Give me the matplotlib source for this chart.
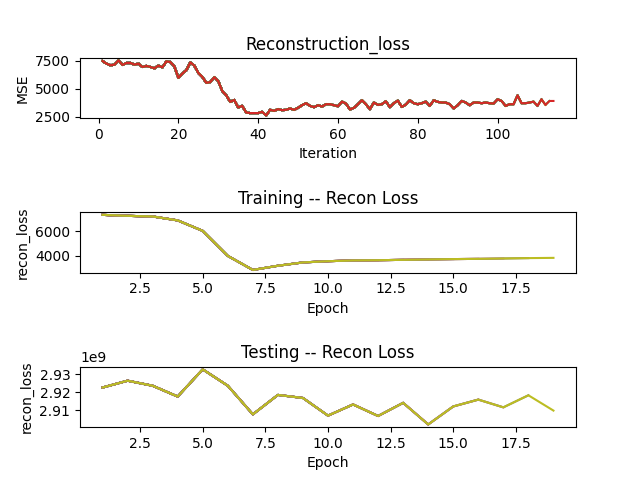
import matplotlib
matplotlib.use("Agg")
import matplotlib.pyplot as plt

iterations = list(range(1, 115))
mse = [7470, 7235, 7090, 7150, 7530, 7120, 7295, 7295, 7150, 7235,
       6940, 7030, 6940, 6820, 7060, 6910, 7440, 7380, 7000, 5970,
       6350, 6650, 7350, 7060, 6410, 6060, 5530, 5590, 6030, 5680,
       4800, 4410, 3830, 4000, 3330, 3470, 2880, 2830, 2830, 2830,
       2940, 2620, 3120, 3030, 3180, 3090, 3120, 3240, 3120, 3300,
       3530, 3710, 3470, 3355, 3530, 3410, 3620, 3620, 3530, 3440,
       3850, 3680, 3150, 3300, 3620, 3970, 3620, 3180, 3770, 3560,
       3620, 3880, 3355, 3710, 3940, 3380, 3590, 3970, 3710, 3620,
       3710, 3850, 3470, 3970, 3830, 3770, 3770, 3620, 3240, 3530,
       3910, 3770, 3530, 3770, 3770, 3710, 3770, 3710, 3680, 4060,
       3910, 3470, 3620, 3620, 4410, 3710, 3710, 3770, 3850, 3470,
       4060, 3560, 3910, 3910]

epochs = list(range(1, 20))
train_loss = [7330, 7250, 7200, 6880, 6030, 4000, 2860, 3200, 3470, 3570,
              3630, 3650, 3680, 3710, 3740, 3760, 3790, 3820, 3840]
train_yticks = [4000, 6000]
test_loss = [2.9227e9, 2.9265e9, 2.9237e9, 2.9177e9, 2.9328e9, 2.9237e9,
             2.9078e9, 2.9186e9, 2.9169e9, 2.9071e9, 2.9133e9, 2.9069e9,
             2.9142e9, 2.9022e9, 2.9122e9, 2.9160e9, 2.9117e9, 2.9184e9,
             2.9099e9]

fig, axes = plt.subplots(3, 1, figsize=(6.4, 4.8), dpi=100)
fig.subplots_adjust(hspace=1.55)

# history re-plotted at every step (colour cycle advances each time)
ax = axes[0]
for k in range(1, len(iterations) + 1):
    ax.plot(iterations[:k], mse[:k])
ax.set_title('Reconstruction_loss')
ax.set_xlabel('Iteration')
ax.set_ylabel('MSE')

ax = axes[1]
for k in range(1, len(epochs) + 1):
    ax.plot(epochs[:k], train_loss[:k])
ax.set_yticks(train_yticks)
ax.set_title('Training -- Recon Loss')
ax.set_xlabel('Epoch')
ax.set_ylabel('recon_loss')

ax = axes[2]
for k in range(1, len(epochs) + 1):
    ax.plot(epochs[:k], test_loss[:k])
ax.set_title('Testing -- Recon Loss')
ax.set_xlabel('Epoch')
ax.set_ylabel('recon_loss')

fig.savefig('out.png', dpi=100)
